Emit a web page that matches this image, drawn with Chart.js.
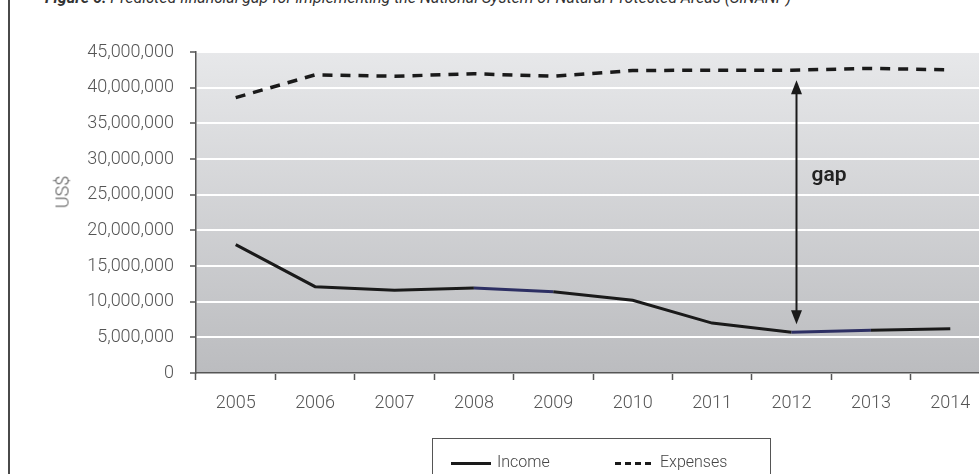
<!DOCTYPE html>
<html>
<head>
<meta charset="utf-8">
<script src="https://cdn.jsdelivr.net/npm/chart.js@4.4.1/dist/chart.umd.min.js"></script>
<style>
  html, body { margin: 0; padding: 0; background: #fff; overflow: hidden; }
  body { width: 979px; height: 474px; position: relative; font-family: Roboto, "Liberation Sans", sans-serif; }
  #frame { position: absolute; left: 8px; top: 0; width: 2px; height: 474px; background: #4a4a4a; }
  #title { position: absolute; left: 45px; top: -10px; white-space: nowrap; font-style: italic; font-size: 16px; color: #333; line-height: 16px; }
  #title b { font-weight: 700; }
  #wrap { position: absolute; left: 0; top: 0; width: 990px; height: 474px; }
  #ytitle { position: absolute; left: 62px; top: 192px; transform: translate(-50%, -50%) rotate(-90deg); font-size: 18px; font-weight: 300; color: #555; white-space: nowrap; }
  #legend { position: absolute; left: 432px; top: 438px; width: 339px; height: 50px; border: 1.5px solid #555; box-sizing: border-box; font-size: 16px; font-weight: 300; color: #444; }
  .item { position: absolute; top: 13px; height: 20px; line-height: 20px; }
  .swatch { position: absolute; top: 10px; width: 40px; height: 0; }
</style>
</head>
<body>
<div id="frame"></div>
<div id="title"><b>Figure 6:</b> Predicted financial gap for implementing the National System of Natural Protected Areas (SINANP)</div>
<div id="wrap"><canvas id="gapChart"></canvas></div>
<div id="ytitle">US$</div>
<div id="legend">
  <div class="swatch" style="left:18px;top:23px;border-top:3px solid #1a1a1a;"></div>
  <div class="item" style="left:64px;">Income</div>
  <div class="swatch" style="left:182px;top:23px;width:36px;border-top:3px dashed #1a1a1a;"></div>
  <div class="item" style="left:227px;">Expenses</div>
</div>
<script>
// years on the x axis
const years = ['2005', '2006', '2007', '2008', '2009', '2010', '2011', '2012', '2013', '2014'];
// income and expenses (US$)
const income = [18000000, 12100000, 11600000, 11900000, 11400000, 10200000, 7000000, 5700000, 6000000, 6200000];
const expenses = [38600000, 41800000, 41600000, 41950000, 41600000, 42400000, 42450000, 42450000, 42700000, 42500000];
const yTicks = [0, 5000000, 10000000, 15000000, 20000000, 25000000, 30000000, 35000000, 40000000, 45000000];

// the gap arrow sits on this year, label height in US$
const gapYear = '2012';
const gapLabelValue = 27600000;

// income segments drawn in dark blue (start index)
const blueSegments = [3, 7];

const tickFont = { family: 'Roboto, "Liberation Sans", sans-serif', size: 18, weight: '300' };

const plotBackground = {
    id: 'plotBackground',
    beforeDraw(chart) {
        const { ctx, chartArea: a } = chart;
        const g = ctx.createLinearGradient(0, a.top, 0, a.bottom);
        g.addColorStop(0, '#e7e8ea');
        g.addColorStop(1, '#bbbcbf');
        ctx.save();
        ctx.fillStyle = g;
        ctx.fillRect(a.left, a.top, a.right - a.left, a.bottom - a.top);
        ctx.restore();
    }
};

const gapArrow = {
    id: 'gapArrow',
    afterDatasetsDraw(chart) {
        const { ctx, scales } = chart;
        const i = years.indexOf(gapYear);
        const x = scales.x.getPixelForValue(i) + 5;
        const top = scales.y.getPixelForValue(expenses[i]) + 10;
        const bottom = scales.y.getPixelForValue(income[i]) - 8;
        ctx.save();
        ctx.strokeStyle = '#1a1a1a';
        ctx.fillStyle = '#1a1a1a';
        ctx.lineWidth = 2;
        ctx.beginPath();
        ctx.moveTo(x, top + 10);
        ctx.lineTo(x, bottom - 10);
        ctx.stroke();
        ctx.beginPath();
        ctx.moveTo(x, top);
        ctx.lineTo(x - 5.5, top + 14);
        ctx.lineTo(x + 5.5, top + 14);
        ctx.closePath();
        ctx.fill();
        ctx.beginPath();
        ctx.moveTo(x, bottom);
        ctx.lineTo(x - 5.5, bottom - 14);
        ctx.lineTo(x + 5.5, bottom - 14);
        ctx.closePath();
        ctx.fill();
        ctx.font = '600 21px Roboto, "Liberation Sans", sans-serif';
        ctx.textBaseline = 'middle';
        ctx.fillStyle = '#222';
        ctx.fillText('gap', x + 15, scales.y.getPixelForValue(gapLabelValue));
        ctx.restore();
    }
};

new Chart(document.getElementById('gapChart'), {
    type: 'line',
    data: {
        labels: years,
        datasets: [{
            label: 'Income',
            data: income,
            borderColor: '#1a1a1a',
            borderWidth: 3,
            pointRadius: 0,
            tension: 0,
            segment: {
                borderColor: c => blueSegments.includes(c.p0DataIndex) ? '#2d2f63' : undefined
            }
        }, {
            label: 'Expenses',
            data: expenses,
            borderColor: '#1a1a1a',
            borderWidth: 3.5,
            borderDash: [10, 8],
            pointRadius: 0,
            tension: 0
        }]
    },
    options: {
        responsive: true,
        maintainAspectRatio: false,
        animation: false,
        layout: { padding: { top: 52, bottom: 61, left: 66, right: 0 } },
        plugins: {
            legend: { display: false },
            tooltip: { enabled: false }
        },
        scales: {
            x: {
                offset: true,
                afterFit: s => { s.height = 40; },
                grid: { offset: true, drawOnChartArea: false, drawTicks: true, tickLength: 7, tickColor: '#555', tickWidth: 1.5 },
                border: { color: '#555', width: 1.5 },
                ticks: { color: '#555', font: tickFont, padding: 13, maxRotation: 0 }
            },
            y: {
                min: 0,
                max: 45000000,
                afterFit: s => { s.width = 130; },
                afterBuildTicks: s => { s.ticks = yTicks.map(v => ({ value: v })); },
                grid: { color: '#ffffff', lineWidth: 2, tickColor: '#555', tickLength: 6, tickWidth: 1.5 },
                border: { color: '#555', width: 1.5 },
                ticks: {
                    color: '#555',
                    font: tickFont,
                    padding: 16,
                    callback: v => v.toLocaleString('en-US')
                }
            }
        }
    },
    plugins: [plotBackground, gapArrow]
});
</script>
</body>
</html>
